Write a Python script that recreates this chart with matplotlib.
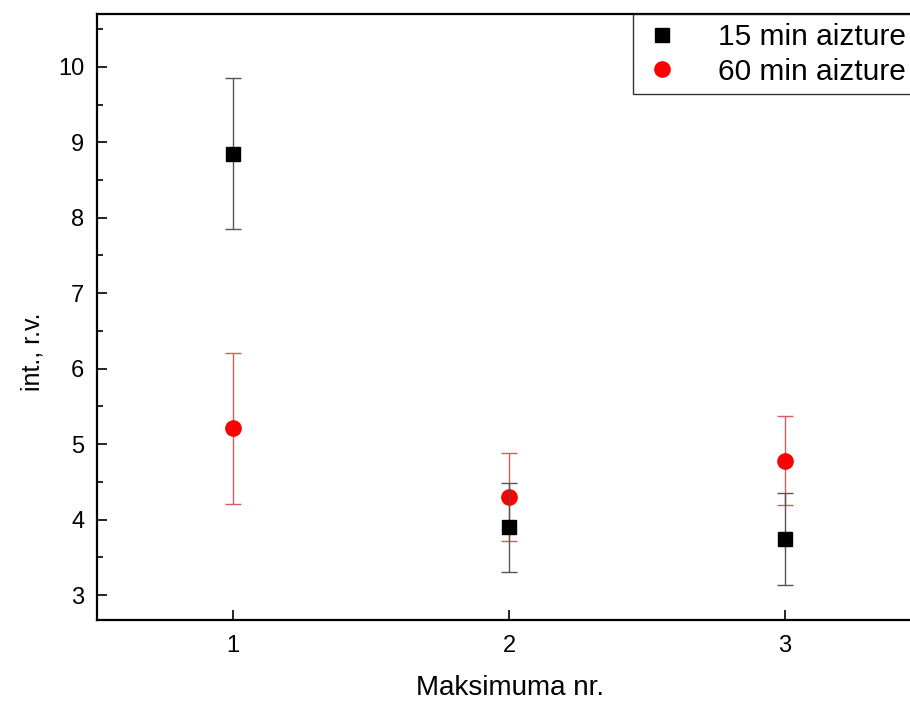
import matplotlib.pyplot as plt
from matplotlib.ticker import MultipleLocator

plt.rcParams['font.family'] = ['Liberation Sans', 'DejaVu Sans']

maks = [1, 2, 3]
int15 = [8.85, 3.90, 3.74]
err15 = [1.0, 0.59, 0.61]
int60 = [5.21, 4.30, 4.78]
err60 = [1.0, 0.58, 0.59]

fig = plt.figure(figsize=(9.1, 7.02), dpi=100)
ax = fig.add_axes([97/910, 82/702, 826/910, 606/702])

eb15 = ax.errorbar(maks, int15, yerr=err15, fmt='s', color='black', ms=9.5,
                   ecolor='#555555', elinewidth=1.0, capsize=6, capthick=1.0,
                   label='15 min aizture', zorder=3)
eb60 = ax.errorbar(maks, int60, yerr=err60, fmt='o', color='#ff0000', ms=11,
                   ecolor='#d85a5a', elinewidth=1.0, capsize=6, capthick=1.0,
                   label='60 min aizture', zorder=2)

ax.set_xlim(0.507, 3.5)
ax.set_ylim(2.67, 10.70)
ax.set_xticks(maks)
ax.yaxis.set_major_locator(MultipleLocator(1))
ax.yaxis.set_minor_locator(MultipleLocator(0.5))
ax.tick_params(axis='both', which='major', direction='in', length=7,
               width=1.2, labelsize=17, pad=11)
ax.tick_params(axis='y', which='minor', direction='in', length=4, width=1.2)
ax.tick_params(axis='y', which='major', pad=9)
for s in ax.spines.values():
    s.set_linewidth(1.6)

ax.set_xlabel('Maksimuma nr.', fontsize=20)
ax.set_ylabel('int., r.v.', fontsize=18)
ax.xaxis.set_label_coords(0.5, -0.09)
ax.yaxis.set_label_coords(-0.063, 0.442)

# legend shows only the markers, no error bars
leg = ax.legend(handles=[eb15[0], eb60[0]], labels=['15 min aizture', '60 min aizture'],
                loc='upper left', bbox_to_anchor=(536/826, 1.0), fontsize=21.5,
                frameon=True, fancybox=False, borderaxespad=0,
                handletextpad=1.2, labelspacing=0.22, borderpad=0.3,
                handlelength=1.35)
leg.get_frame().set_edgecolor('black')
leg.get_frame().set_linewidth(1.0)

fig.savefig('out.png', dpi=100)
